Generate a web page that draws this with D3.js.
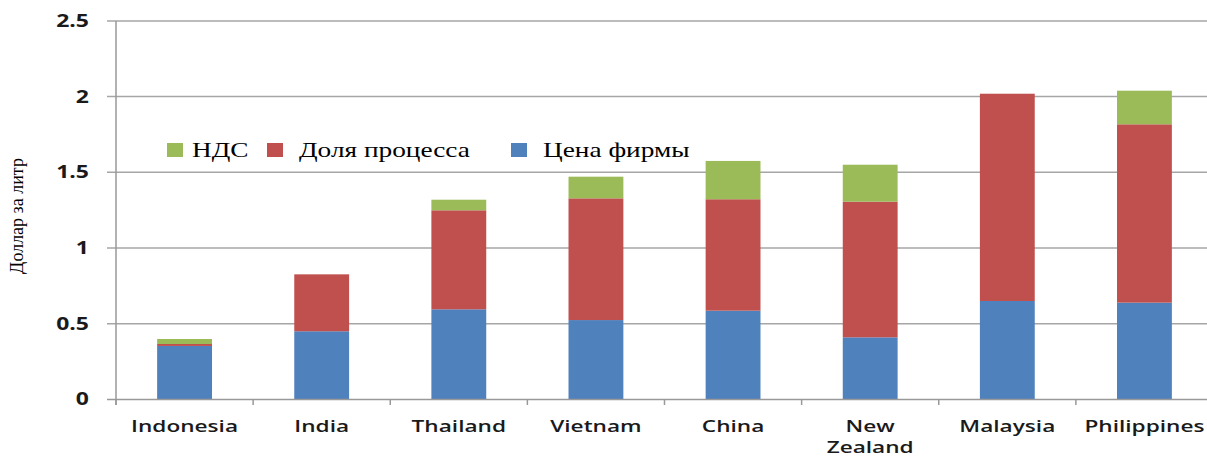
<!DOCTYPE html>
<html><head><meta charset="utf-8">
<script src="https://cdn.jsdelivr.net/npm/d3@7"></script>
<style>body{margin:0;background:#fff;}svg{display:block;}</style>
</head><body>
<svg id="c" width="1207" height="459"></svg>
<script>
const categories = ["Indonesia","India","Thailand","Vietnam","China","New Zealand","Malaysia","Philippines"];
const firmPrice  = [0.353,0.45,0.595,0.524,0.586,0.41,0.65,0.639];   // Цена фирмы
const processShare = [0.013,0.376,0.654,0.804,0.736,0.896,1.369,1.178]; // Доля процесса
const vat        = [0.033,0,0.07,0.143,0.253,0.244,0,0.222];          // НДС
const yTicks = [0,0.5,1,1.5,2,2.5];
const yTickLabels = ["0","0.5","1","1.5","2","2.5"];
const seriesNames = ["Цена фирмы","Доля процесса","НДС"];
const legendOrder = ["НДС","Доля процесса","Цена фирмы"];
const colors = {"Цена фирмы":"#4f81bd","Доля процесса":"#c0504d","НДС":"#9bbb59"};
const yTitle = "Доллар за литр";

const svg = d3.select("#c");
const x0 = 116, x1 = 1213, yBottom = 399.4, yTop = 20.9;
const x = d3.scaleBand().domain(categories).range([x0,x1]).paddingInner(0.6).paddingOuter(0.3);
const y = d3.scaleLinear().domain([0,2.5]).range([yBottom,yTop]);

function stretch(sel, f){ sel.each(function(){ const n=this.getComputedTextLength(); this.setAttribute("textLength", n*f); this.setAttribute("lengthAdjust","spacingAndGlyphs"); }); }

// gridlines
svg.append("g").selectAll("line").data(yTicks.filter(d=>d>0)).join("line")
  .attr("x1",107).attr("x2",1207).attr("y1",d=>y(d)).attr("y2",d=>y(d))
  .attr("stroke","#a6a6a6").attr("stroke-width",1.5);

// stacked bars
const rows = categories.map((c,i)=>({cat:c,"Цена фирмы":firmPrice[i],"Доля процесса":processShare[i],"НДС":vat[i]}));
const stack = d3.stack().keys(seriesNames)(rows);
svg.append("g").selectAll("g").data(stack).join("g").attr("fill",d=>colors[d.key])
  .selectAll("rect").data(d=>d).join("rect")
  .attr("x",d=>x(d.data.cat)).attr("width",x.bandwidth())
  .attr("y",d=>y(d[1])).attr("height",d=>Math.max(0,y(d[0])-y(d[1])));

// axes lines
svg.append("line").attr("x1",x0).attr("x2",x0).attr("y1",yTop).attr("y2",405).attr("stroke","#999").attr("stroke-width",1.5);
svg.append("line").attr("x1",107).attr("x2",1207).attr("y1",yBottom).attr("y2",yBottom).attr("stroke","#999").attr("stroke-width",1.5);
// x ticks at band boundaries
const bounds = categories.map(c=>x(c)-x.step()*x.paddingInner()/2).concat([x1]);
svg.append("g").selectAll("line").data(bounds).join("line")
  .attr("x1",d=>d).attr("x2",d=>d).attr("y1",yBottom).attr("y2",405).attr("stroke","#999").attr("stroke-width",1.5);

// y labels
const yl = svg.append("g").selectAll("text").data(yTicks).join("text")
  .attr("x",89).attr("y",d=>y(d)+6).attr("text-anchor","end")
  .attr("font-family","Open Sans").attr("font-weight",700).attr("font-size",17).attr("fill","#1a1a1a")
  .text((d,i)=>yTickLabels[i]);
stretch(yl,1.35);

// x labels
const xg = svg.append("g");
categories.forEach(c=>{
  const words = c==="New Zealand" ? ["New","Zealand"] : [c];
  const cx = x(c)+x.bandwidth()/2;
  words.forEach((w,k)=>{
    const t = xg.append("text").attr("x",cx).attr("y",431.5+k*21).attr("text-anchor","middle")
      .attr("font-family","Open Sans").attr("font-weight",600).attr("font-size",17).attr("fill","#1a1a1a").text(w);
    stretch(t,1.33);
  });
});

// y title
svg.append("text").attr("transform","translate(23,216) rotate(-90)").attr("text-anchor","middle")
  .attr("font-family","Liberation Serif").attr("font-size",18).attr("fill","#000").text(yTitle);

// legend
const legSq = [167,267,511];
const legTx = [192,299,543];
legendOrder.forEach((name,i)=>{
  svg.append("rect").attr("x",legSq[i]).attr("y",143).attr("width",16).attr("height",14).attr("fill",colors[name]);
  const t = svg.append("text").attr("x",legTx[i]).attr("y",157).attr("font-family","Liberation Serif")
    .attr("font-size",21).attr("fill","#000").text(name);
  stretch(t,1.3);
});
</script>
</body></html>
